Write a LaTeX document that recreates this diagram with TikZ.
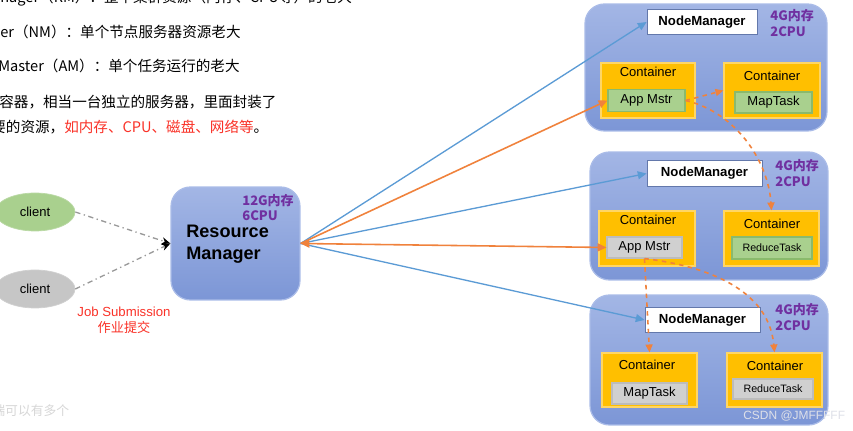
\documentclass[tikz,border=0pt]{standalone}
\usepackage{fontspec}
\setmainfont{Liberation Sans}
\newfontfamily\cjk{Noto Sans CJK SC}
\usetikzlibrary{arrows.meta,shapes.geometric}

\definecolor{hosttop}{RGB}{163,182,229}
\definecolor{hostbot}{RGB}{124,150,214}
\definecolor{hostedge}{RGB}{170,188,232}
\definecolor{gold}{RGB}{255,191,0}
\definecolor{goldedge}{RGB}{255,214,100}
\definecolor{taskgreen}{RGB}{169,208,142}
\definecolor{greenedge}{RGB}{138,186,108}
\definecolor{taskgray}{RGB}{208,208,208}
\definecolor{grayedge}{RGB}{188,188,188}
\definecolor{linkblue}{RGB}{91,155,213}
\definecolor{linkorange}{RGB}{240,130,60}
\definecolor{memviolet}{RGB}{112,48,160}
\definecolor{subred}{RGB}{250,50,40}
\definecolor{faint}{RGB}{215,215,215}
\definecolor{markgray}{RGB}{222,224,232}

\begin{document}
\begin{tikzpicture}[x=0.02cm,y=-0.02cm,
    font=\fontsize{7.4}{9}\selectfont,
    host/.style={draw=hostedge,top color=hosttop,bottom color=hostbot,
      rounded corners=11pt,line width=0.7pt,inner sep=0},
    nmbox/.style={draw=hostbot!80!black,fill=white,line width=0.5pt,
      minimum width=2.25cm,minimum height=0.51cm,inner sep=0,
      font=\bfseries\fontsize{7.5}{9}\selectfont},
    cont/.style={fill=gold,draw=goldedge,line width=0.7pt,
      minimum width=1.9cm,minimum height=1.1cm,inner sep=0},
    task/.style={line width=0.7pt,minimum width=1.54cm,minimum height=0.44cm,inner sep=0},
    greentask/.style={task,fill=taskgreen,draw=greenedge},
    graytask/.style={task,fill=taskgray,draw=grayedge},
    mem/.style={anchor=west,inner sep=0,align=left,text=memviolet,
      font=\cjk\bfseries\fontsize{7.4}{9.1}\selectfont},
    client/.style={ellipse,minimum width=1.6cm,minimum height=0.76cm,inner sep=0},
    note/.style={anchor=west,inner sep=0,font=\cjk\fontsize{8.3}{10}\selectfont}]
  \clip (0,0) rectangle (853,431);
  \fill[white] (0,0) rectangle (853,431);

  % notes on the left
  \node[note] (rmnote) at (0,-2) {nager（RM）：整个集群资源（内存、CPU等）的老大};
  \node[note] (nmnote) at (0,32) {er（NM）：单个节点服务器资源老大};
  \node[note] (amnote) at (-2,66) {Master（AM）：单个任务运行的老大};
  \node[note] (ctnote) at (-1,102) {容器，相当一台独立的服务器，里面封装了};
  \node[note] (resnote) at (-9,127) {要的资源，\textcolor{subred}{如内存、CPU、磁盘、网络等}。};
  \node[note,text=faint,font=\cjk\fontsize{7.3}{9}\selectfont] (clnote) at (-8,411) {端可以有多个};

  % clients and resource manager
  \node[client,fill=taskgreen,draw=taskgreen!80!white] (client1) at (35,212) {client};
  \node[client,fill=taskgray!95!black,draw=taskgray] (client2) at (35,289) {client};
  \node[text=subred,align=center,font=\fontsize{7.5}{9}\selectfont] (submit) at (124,320)
    {Job Submission\\{\cjk 作业提交}};
  \node[host,minimum width=2.58cm,minimum height=2.26cm] (rm) at (235.5,243.5) {};
  \node[anchor=west,inner sep=0,align=left,font=\bfseries\fontsize{10.3}{12.5}\selectfont]
    (rmname) at (186,244) {Resource\\Manager};
  \node[mem,font=\cjk\bfseries\fontsize{7.4}{8.5}\selectfont] (rmmem) at (242,207.5) {12G内存\\6CPU};

  % node managers
  \node[host,minimum width=4.84cm,minimum height=2.54cm] (host1) at (706,67.5) {};
  \node[host,minimum width=4.76cm,minimum height=2.56cm] (host2) at (709,216) {};
  \node[host,minimum width=4.76cm,minimum height=2.6cm] (host3) at (709,360) {};

  \node[nmbox,minimum width=2.2cm] (nm1) at (702,22) {NodeManager};
  \node[nmbox,minimum width=2.3cm] (nm2) at (704.5,173.5) {NodeManager};
  \node[nmbox,minimum width=2.3cm] (nm3) at (702.5,320) {NodeManager};
  \node[mem] (mem1) at (770,23) {4G内存\\2CPU};
  \node[mem] (mem2) at (775,173) {4G内存\\2CPU};
  \node[mem] (mem3) at (775,317) {4G内存\\2CPU};

  \node[cont,minimum width=1.88cm] (c1a) at (648,90.5) {};
  \node[cont,minimum width=1.92cm] (c1b) at (772,90.5) {};
  \node[cont,minimum width=1.92cm] (c2a) at (647,238.5) {};
  \node[cont] (c2b) at (771.5,238.5) {};
  \node[cont,minimum height=1.08cm] (c3a) at (649.5,380) {};
  \node[cont,minimum height=1.08cm] (c3b) at (774.5,380) {};

  \node (c1at) at (648,72) {Container};
  \node (c1bt) at (772,76) {Container};
  \node (c2at) at (648,220) {Container};
  \node (c2bt) at (772,224) {Container};
  \node (c3at) at (647,365) {Container};
  \node (c3bt) at (775,366) {Container};

  \node[greentask] (am1) at (646.5,100.5) {App Mstr};
  \node[greentask,minimum height=0.42cm] (mt1) at (773.5,102.5) {MapTask};
  \node[graytask,minimum width=1.5cm,minimum height=0.42cm] (am2) at (644.5,247.5) {App Mstr};
  \node[greentask,minimum width=1.6cm,font=\fontsize{6.1}{7}\selectfont] (rt2) at (772,248) {ReduceTask};
  \node[graytask,minimum width=1.5cm,minimum height=0.42cm] (mt3) at (649.5,393.5) {MapTask};
  \node[graytask,minimum width=1.6cm,minimum height=0.4cm,font=\fontsize{6.1}{7}\selectfont] (rt3) at (773,389) {ReduceTask};

  \node[anchor=west,inner sep=0,text=markgray,font=\fontsize{6.8}{8}\selectfont] (mark) at (743,416) {CSDN @JMFFFFF};

  % links
  \begin{scope}[line width=0.75pt,-{Triangle[length=5pt,width=4.5pt]}]
    \draw[gray!80,dash dot,arrows={-Stealth[black,length=5pt,width=4pt]}] (client1.east) -- (rm.west);
    \draw[gray!80,dash dot,arrows={-Stealth[black,length=5pt,width=4pt]}] (client2.east) -- (rm.west);
    \draw[linkblue] (rm.east) -- (nm1.west);
    \draw[linkblue] (rm.east) -- (nm2.west);
    \draw[linkblue] (rm.east) -- (nm3.west);
    \draw[linkorange,line width=0.9pt] (rm.east) -- (am1.west);
    \draw[linkorange,line width=0.9pt,{Triangle[length=5pt,width=4.5pt]}-{Triangle[length=5pt,width=4.5pt]}]
      (rm.east) -- (am2.west);
  \end{scope}
  \begin{scope}[linkorange,line width=0.9pt,dash pattern=on 2.5pt off 2.5pt,
      -{Triangle[length=4.5pt,width=4pt]}]
    \draw (am1.east) -- (c1b.west);
    \draw (am1.east) .. controls (735,112) and (768,160) .. (c2b.north);
    \draw (am2.south) -- (c3a.north);
    \draw (am2.south) .. controls (690,264) and (768,282) .. (c3b.north);
  \end{scope}
\end{tikzpicture}
\end{document}
